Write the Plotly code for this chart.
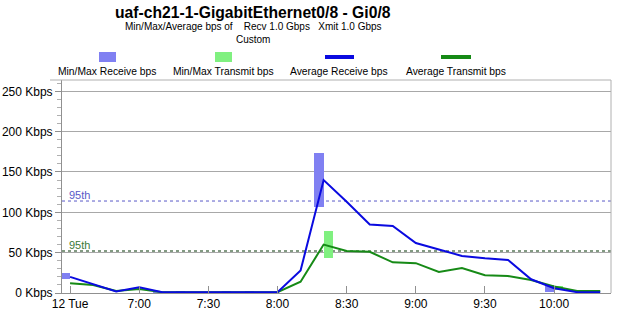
import plotly.graph_objects as go

# ---------------- data ----------------
times = ["2013-11-12 06:30", "2013-11-12 06:40", "2013-11-12 06:50", "2013-11-12 07:00",
         "2013-11-12 07:10", "2013-11-12 07:20", "2013-11-12 07:30", "2013-11-12 07:40",
         "2013-11-12 07:50", "2013-11-12 08:00", "2013-11-12 08:10", "2013-11-12 08:20",
         "2013-11-12 08:30", "2013-11-12 08:40", "2013-11-12 08:50", "2013-11-12 09:00",
         "2013-11-12 09:10", "2013-11-12 09:20", "2013-11-12 09:30", "2013-11-12 09:40",
         "2013-11-12 09:50", "2013-11-12 10:00", "2013-11-12 10:10", "2013-11-12 10:20"]

avg_recv = [20, 11, 2, 7, 1, 1, 1, 1, 1, 1, 28, 140, 113, 85, 83, 62, 54, 46, 43, 41, 17, 6, 1, 1]
avg_xmit = [12, 10, 2.5, 5, 1, 1, 1, 1, 1, 1, 14, 60, 52, 51, 38, 37, 26, 31, 22, 21, 16, 8, 2.5, 2.5]

min_recv = [17, 11, 2, 7, 1, 1, 1, 1, 1, 1, 28, 106, 113, 85, 83, 62, 54, 46, 43, 41, 17, 1, 1, 1]
max_recv = [25, 11, 2, 7, 2, 2, 1, 2, 2, 1, 28, 174, 113, 85, 83, 62, 54, 46, 43, 41, 17, 10, 1, 1]
min_xmit = [12, 10, 2.5, 5, 1, 1, 1, 1, 1, 1, 14, 43, 52, 51, 38, 37, 26, 31, 22, 21, 16, 4, 2.5, 2.5]
max_xmit = [12, 10, 2.5, 5, 1, 1, 1, 1, 1, 1, 14, 77, 52, 51, 38, 37, 26, 31, 22, 21, 16, 9, 2.5, 2.5]

pct95_recv = 114
pct95_xmit = 52

tick_vals = ["2013-11-12 06:30", "2013-11-12 07:00", "2013-11-12 07:30", "2013-11-12 08:00",
             "2013-11-12 08:30", "2013-11-12 09:00", "2013-11-12 09:30", "2013-11-12 10:00"]
tick_text = ["12 Tue", "7:00", "7:30", "8:00", "8:30", "9:00", "9:30", "10:00"]
y_tick_vals = [0, 50, 100, 150, 200, 250]
y_tick_text = ["0 Kbps", "50 Kbps", "100 Kbps", "150 Kbps", "200 Kbps", "250 Kbps"]

title = "uaf-ch21-1-GigabitEthernet0/8 - Gi0/8"
subtitle = "Min/Max/Average bps of    Recv 1.0 Gbps   Xmit 1.0 Gbps"
subtitle2 = "Custom"
legend_names = ["Min/Max Receive bps", "Min/Max Transmit bps", "Average Receive bps", "Average Transmit bps"]

# ---------------- styling ----------------
C_MM_RECV = "#8080f2"
C_MM_XMIT = "#80f080"
C_AVG_RECV = "#0a0ae0"
C_AVG_XMIT = "#168a16"
FONT = "Liberation Sans, Arial, sans-serif"

W, H = 622, 317
L, R, T, B = 62, 11, 80, 24
PW, PH = W - L - R, H - T - B


def px(x):
    return (x - L) / PW


def py(y):
    return (H - B - y) / PH


BAR_MS = 4 * 60 * 1000

fig = go.Figure()

fig.add_trace(go.Bar(x=times, base=min_recv, y=[a - b for a, b in zip(max_recv, min_recv)],
                     width=BAR_MS, offset=-BAR_MS, marker=dict(color=C_MM_RECV, line=dict(width=0)),
                     showlegend=False, hoverinfo="skip"))
fig.add_trace(go.Bar(x=times, base=min_xmit, y=[a - b for a, b in zip(max_xmit, min_xmit)],
                     width=BAR_MS, offset=0, marker=dict(color=C_MM_XMIT, line=dict(width=0)),
                     showlegend=False, hoverinfo="skip"))
fig.add_trace(go.Scatter(x=times, y=avg_xmit, mode="lines", line=dict(color=C_AVG_XMIT, width=2),
                         showlegend=False))
fig.add_trace(go.Scatter(x=times, y=avg_recv, mode="lines", line=dict(color=C_AVG_RECV, width=2),
                         showlegend=False))

annotations = [
    dict(text="<b>" + title + "</b>", x=px(253), y=py(12), font=dict(size=15.7, color="black")),
    dict(text=subtitle, x=px(253), y=py(27), font=dict(size=10, color="black")),
    dict(text=subtitle2, x=px(253), y=py(40), font=dict(size=10, color="black")),
    dict(text="95th", x=px(67), y=py(195), xanchor="left", font=dict(size=11, color="#5a5ac8")),
    dict(text="95th", x=px(67), y=py(245), xanchor="left", font=dict(size=11, color="#3a7a3a")),
]
legend_cx = [107, 223, 339, 456]
for name, cx in zip(legend_names, legend_cx):
    annotations.append(dict(text=name, x=px(cx), y=py(71.5), font=dict(size=10.3, color="black")))
for a in annotations:
    a.update(xref="paper", yref="paper", showarrow=False)
    a.setdefault("xanchor", "center")
    a["yanchor"] = "middle"
    a["font"]["family"] = FONT

shapes = [
    # 95th percentile lines
    dict(type="line", xref="paper", yref="y", x0=0, x1=1, y0=pct95_recv, y1=pct95_recv,
         line=dict(color="#5a5ac8", width=1, dash="dot"), layer="below"),
    dict(type="line", xref="paper", yref="y", x0=0, x1=1, y0=pct95_xmit, y1=pct95_xmit,
         line=dict(color="#5a7a5a", width=1.5, dash="dot"), layer="below"),
    # legend swatches
    dict(type="rect", xref="paper", yref="paper", x0=px(99), x1=px(116), y0=py(62), y1=py(52),
         fillcolor=C_MM_RECV, line=dict(width=0)),
    dict(type="rect", xref="paper", yref="paper", x0=px(215), x1=px(232), y0=py(62), y1=py(52),
         fillcolor=C_MM_XMIT, line=dict(width=0)),
    dict(type="rect", xref="paper", yref="paper", x0=px(325), x1=px(354), y0=py(59), y1=py(55),
         fillcolor=C_AVG_RECV, line=dict(width=0)),
    dict(type="rect", xref="paper", yref="paper", x0=px(441), x1=px(471), y0=py(59), y1=py(55),
         fillcolor=C_AVG_XMIT, line=dict(width=0)),
    # plot frame top line and right border
    dict(type="line", xref="paper", yref="paper", x0=px(50), x1=1, y0=1, y1=1,
         line=dict(color="#b0b0b0", width=1)),
    dict(type="line", xref="paper", yref="paper", x0=1, x1=1, y0=0, y1=1,
         line=dict(color="#b0b0b0", width=1)),
]

fig.update_layout(
    template="none",
    width=W, height=H,
    margin=dict(l=L, r=R, t=T, b=B, pad=0),
    paper_bgcolor="white", plot_bgcolor="white",
    barmode="overlay", bargap=0,
    font=dict(family=FONT, size=12, color="black"),
    annotations=annotations, shapes=shapes,
    xaxis=dict(type="date", range=["2013-11-12 06:26:30", "2013-11-12 10:24:40"],
               tickvals=tick_vals, ticktext=tick_text, ticks="inside", ticklen=7,
               tickcolor="#909090", showgrid=False, zeroline=False, automargin=False,
               showline=True, linecolor="#909090", linewidth=1,
               tickfont=dict(size=12, color="black"), fixedrange=True),
    yaxis=dict(range=[0, 264], tickvals=y_tick_vals, ticktext=y_tick_text,
               ticks="outside", ticklen=6, tickcolor="#909090", automargin=False,
               showgrid=True, gridcolor="#a8a8a8", gridwidth=1, zeroline=False,
               showline=True, linecolor="#909090", linewidth=1,
               minor=dict(dtick=10, tick0=0, ticks="outside", ticklen=4, tickcolor="#b0b0b0", showgrid=False),
               tickfont=dict(size=12, color="black"), fixedrange=True),
)

fig.write_html("out.html")
